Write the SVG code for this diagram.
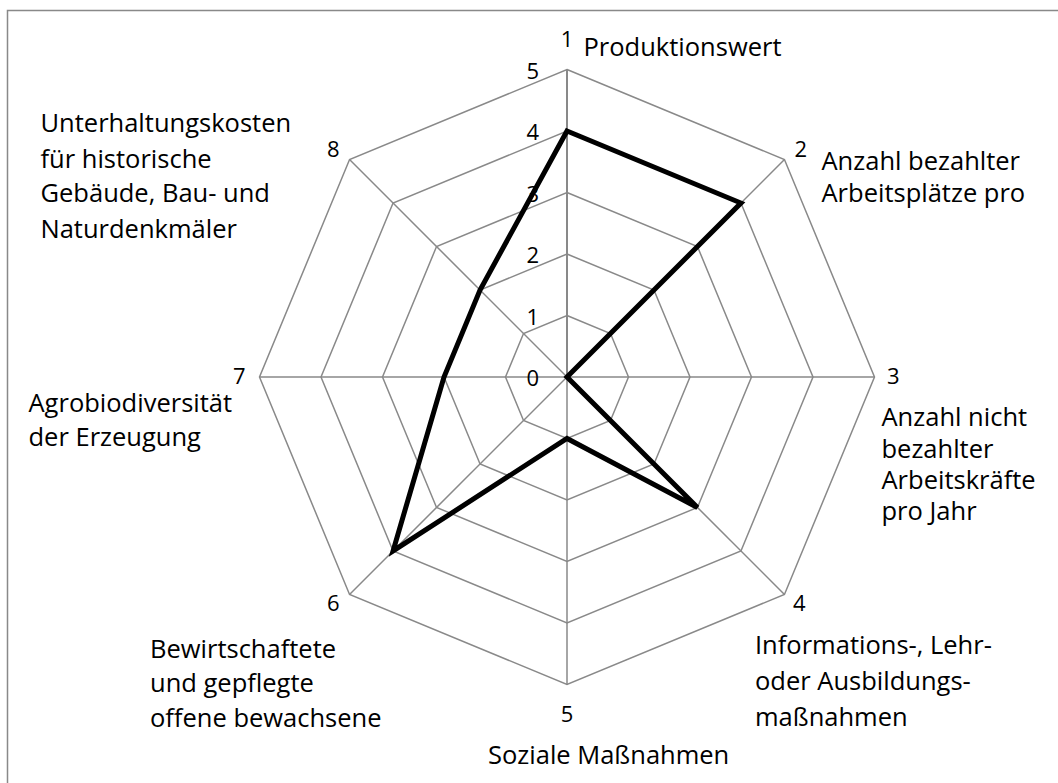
<svg xmlns="http://www.w3.org/2000/svg" width="1058" height="783" viewBox="0 0 1058 783">
<style>
.grid{fill:none;stroke:#898989;stroke-width:1.5}
.axis{stroke:#898989;stroke-width:2}
.data{fill:none;stroke:#000;stroke-width:5;stroke-linejoin:miter}
.lbl{font-family:"Open Sans","Noto Sans",sans-serif;font-size:25.5px;fill:#000}
.num{font-family:"Open Sans","Noto Sans",sans-serif;font-size:22px;fill:#000}
.lvl{font-family:"Open Sans","Noto Sans",sans-serif;font-size:22px;fill:#000;text-anchor:end}
</style>
<rect x="0" y="0" width="1058" height="783" fill="#fff"/>
<rect x="7.5" y="10.5" width="1200" height="900" fill="none" stroke="#898989" stroke-width="1.5"/>
<g id="grid">
<polygon class="grid" points="567,315.5 610.49,333.51 628.5,377 610.49,420.49 567,438.5 523.51,420.49 505.5,377 523.51,333.51"/>
<polygon class="grid" points="567,254 653.97,290.03 690,377 653.97,463.97 567,500 480.03,463.97 444,377 480.03,290.03"/>
<polygon class="grid" points="567,192.5 697.46,246.54 751.5,377 697.46,507.46 567,561.5 436.54,507.46 382.5,377 436.54,246.54"/>
<polygon class="grid" points="567,131 740.95,203.05 813,377 740.95,550.95 567,623 393.05,550.95 321,377 393.05,203.05"/>
<polygon class="grid" points="567,69.5 784.44,159.56 874.5,377 784.44,594.44 567,684.5 349.56,594.44 259.5,377 349.56,159.56"/>
</g>
<g id="axes">
<line class="axis" x1="567" y1="377" x2="567" y2="69.5"/>
<line class="grid" x1="567" y1="377" x2="784.44" y2="159.56"/>
<line class="grid" x1="567" y1="377" x2="874.5" y2="377"/>
<line class="grid" x1="567" y1="377" x2="784.44" y2="594.44"/>
<line class="grid" x1="567" y1="377" x2="567" y2="684.5"/>
<line class="grid" x1="567" y1="377" x2="349.56" y2="594.44"/>
<line class="grid" x1="567" y1="377" x2="259.5" y2="377"/>
<line class="grid" x1="567" y1="377" x2="349.56" y2="159.56"/>
</g>
<g id="level-labels">
<text class="lvl" x="539" y="386">0</text>
<text class="lvl" x="539" y="324.5">1</text>
<text class="lvl" x="539" y="263">2</text>
<text class="lvl" x="539" y="201.5">3</text>
<text class="lvl" x="539" y="140">4</text>
<text class="lvl" x="539" y="78.5">5</text>
</g>
<g id="connectors">
<polygon class="data" points="567,131 740.95,203.05 567,377 697.46,507.46 567,438.5 393.05,550.95 444,377 480.03,290.03"/>
</g>
<g id="axis1">
<text class="num" x="567" y="47" text-anchor="middle">1</text>
<text class="lbl" x="583.5" y="56">Produktionswert</text>
</g>
<g id="axis2">
<text class="num" x="794.5" y="157">2</text>
<text class="lbl" x="821.5" y="169.5">Anzahl bezahlter</text>
<text class="lbl" x="821.5" y="202">Arbeitsplätze pro</text>
</g>
<g id="axis3">
<text class="num" x="887" y="384">3</text>
<text class="lbl" x="881.5" y="426">Anzahl nicht</text>
<text class="lbl" x="881.5" y="457.5">bezahlter</text>
<text class="lbl" x="881.5" y="489">Arbeitskräfte</text>
<text class="lbl" x="881.5" y="520">pro Jahr</text>
</g>
<g id="axis4">
<text class="num" x="793" y="611">4</text>
<text class="lbl" x="755" y="654">Informations-, Lehr-</text>
<text class="lbl" x="755" y="690">oder Ausbildungs-</text>
<text class="lbl" x="755" y="726">maßnahmen</text>
</g>
<g id="axis5">
<text class="num" x="567" y="722" text-anchor="middle">5</text>
<text class="lbl" x="488" y="763.5">Soziale Maßnahmen</text>
</g>
<g id="axis6">
<text class="num" x="327" y="611">6</text>
<text class="lbl" x="150" y="657.5">Bewirtschaftete</text>
<text class="lbl" x="150" y="692">und gepflegte</text>
<text class="lbl" x="150" y="727">offene bewachsene</text>
</g>
<g id="axis7">
<text class="num" x="233" y="384">7</text>
<text class="lbl" x="28.5" y="411.5">Agrobiodiversität</text>
<text class="lbl" x="28.5" y="446">der Erzeugung</text>
</g>
<g id="axis8">
<text class="num" x="327" y="157">8</text>
<text class="lbl" x="40.5" y="132">Unterhaltungskosten</text>
<text class="lbl" x="40.5" y="167.5">für historische</text>
<text class="lbl" x="40.5" y="202">Gebäude, Bau- und</text>
<text class="lbl" x="40.5" y="238">Naturdenkmäler</text>
</g>
</svg>
